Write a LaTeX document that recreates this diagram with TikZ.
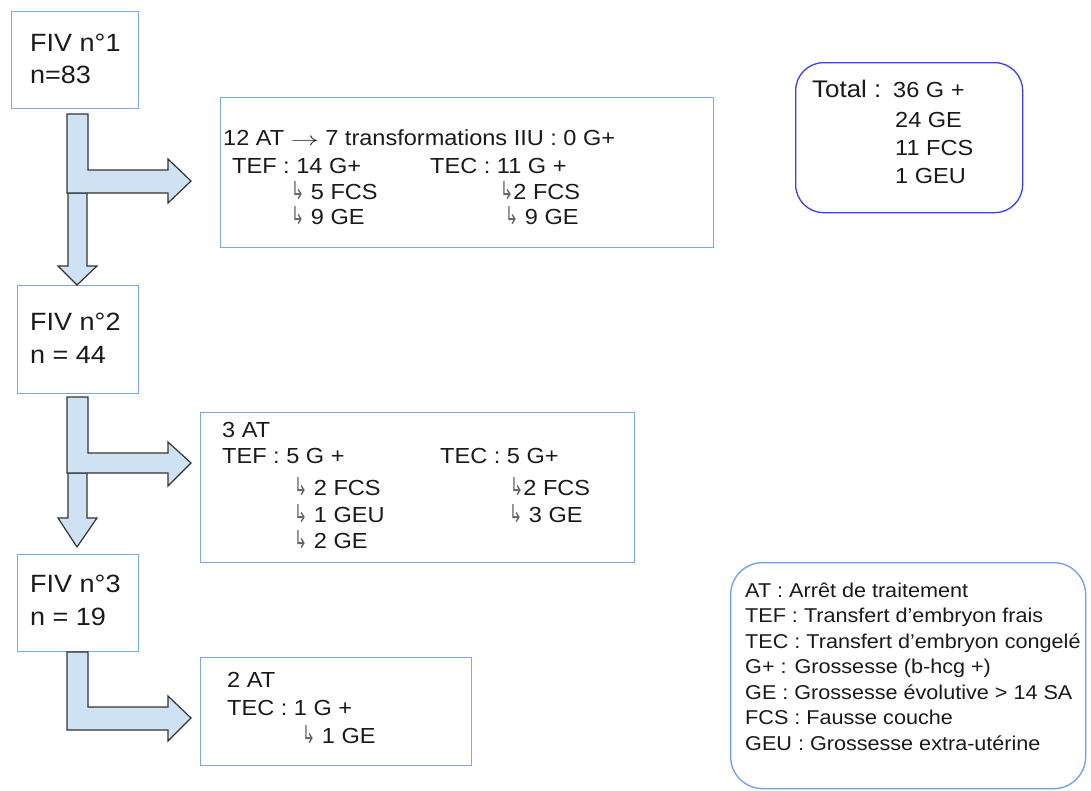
\documentclass[tikz,border=0pt]{standalone}
\usepackage{fontspec}
\setmainfont{Liberation Sans}[FakeStretch=1.08]
\newfontfamily\myarrowfont{DejaVu Sans}
\definecolor{boxblue}{HTML}{7BA7EE}
\definecolor{totblue}{HTML}{3D3DF2}
\definecolor{legblue}{HTML}{6F9FEA}
\definecolor{arrfill}{HTML}{CFE2F3}
\definecolor{arrline}{HTML}{333333}
\definecolor{ink}{HTML}{1A1A1A}
\newcommand{\myhook}{{\myarrowfont\fontsize{15}{15}\selectfont\textcolor{black!60}{\scalebox{1.05}[1.65]{↳}}}}
\tikzset{
  txt/.style={anchor=base west, inner sep=0pt, text=ink, font=\fontsize{20}{24}\selectfont},
  restxt/.style={txt, font=\fontsize{21.8}{26}\selectfont},
  bigtxt/.style={txt, font=\fontsize{25}{30}\selectfont},
  tottxt/.style={txt, font=\fontsize{24}{28}\selectfont},
  box/.style={draw=boxblue, line width=1.3pt, anchor=north west, inner sep=0pt},
  roundbox/.style={line width=1.3pt, anchor=north west, inner sep=0pt, rounded corners=28pt},
  barrow/.style={draw=arrline, fill=arrfill, line width=1.2pt, line join=miter},
}
\begin{document}
\begin{tikzpicture}[x=1pt,y=-1pt]
\useasboundingbox (0,0) rectangle (1091,790);
\fill[white] (0,0) rectangle (1091,790);

% boxes
\node[box, minimum width=127pt, minimum height=97pt] (fiv1) at (11,11) {};
\node[box, minimum width=121pt, minimum height=108pt] (fiv2) at (17,285) {};
\node[box, minimum width=121pt, minimum height=97pt] (fiv3) at (17,554) {};
\node[box, minimum width=493pt, minimum height=150pt] (res1) at (220,97) {};
\node[box, minimum width=434pt, minimum height=150pt] (res2) at (200,412) {};
\node[box, minimum width=271pt, minimum height=108pt] (res3) at (200,657) {};
\node[roundbox, draw=totblue, minimum width=227pt, minimum height=150pt] (total) at (795,62) {};
\node[roundbox, draw=legblue, rounded corners=32pt, minimum width=355pt, minimum height=226pt] (legend) at (730,562) {};

% block arrows
\draw[barrow] (68,193) -- (87,193) -- (87,266) -- (97,266) -- (77,285) -- (58,266) -- (68,266) -- cycle;
\draw[barrow] (67,114) -- (88,114) -- (88,170) -- (168,170) -- (168,159) -- (191,181) -- (168,203) -- (168,193) -- (67,193) -- cycle;
\draw[barrow] (68,473) -- (87,473) -- (87,518) -- (97,518) -- (77,547) -- (58,518) -- (68,518) -- cycle;
\draw[barrow] (67,397) -- (88,397) -- (88,453) -- (168,453) -- (168,442) -- (191,463) -- (168,486) -- (168,473) -- (67,473) -- cycle;
\draw[barrow] (67,652) -- (88,652) -- (88,707) -- (168,707) -- (168,696) -- (191,718) -- (168,741) -- (168,730) -- (67,730) -- cycle;

% FIV texts
\node[bigtxt] (f1a) at (30,51) {FIV n°1};
\node[bigtxt] (f1b) at (30,83) {n=83};
\node[bigtxt] (f2a) at (30,330) {FIV n°2};
\node[bigtxt] (f2b) at (30,363) {n = 44};
\node[bigtxt] (f3a) at (30,592) {FIV n°3};
\node[bigtxt] (f3b) at (30,625) {n = 19};

% result box 1
\node[restxt] (r1a) at (223,145) {12 AT \scalebox{1.35}[0.9]{$\rightarrow$} 7 transformations IIU : 0 G+};
\node[restxt] (r1b) at (232,173) {TEF : 14 G+};
\node[restxt] (r1c) at (430,173) {TEC : 11 G +};
\node[restxt] (r1d) at (291,199) {\myhook\ 5 FCS};
\node[restxt] (r1e) at (500,199) {\myhook2 FCS};
\node[restxt] (r1f) at (291,224) {\myhook\ 9 GE};
\node[restxt] (r1g) at (505,224) {\myhook\ 9 GE};

% result box 2
\node[restxt] (r2a) at (222,437) {3 AT};
\node[restxt] (r2b) at (222,463) {TEF : 5 G +};
\node[restxt] (r2c) at (440,463) {TEC : 5 G+};
\node[restxt] (r2d) at (294,495) {\myhook\ 2 FCS};
\node[restxt] (r2e) at (510,495) {\myhook2 FCS};
\node[restxt] (r2f) at (294,522) {\myhook\ 1 GEU};
\node[restxt] (r2g) at (509,522) {\myhook\ 3 GE};
\node[restxt] (r2h) at (294,548) {\myhook\ 2 GE};

% result box 3
\node[restxt] (r3a) at (227,687) {2 AT};
\node[restxt] (r3b) at (227,715) {TEC : 1 G +};
\node[restxt] (r3c) at (302,743) {\myhook\ 1 GE};

% total
\node[tottxt] (ta) at (812,97) {Total :};
\node[restxt] (tb) at (893,97) {36 G +};
\node[restxt] (tc) at (895,127) {24 GE};
\node[restxt] (td) at (895,155) {11 FCS};
\node[restxt] (te) at (895,183) {1 GEU};

% legend
\node[txt] (l1) at (745,597) {AT : Arrêt de traitement};
\node[txt] (l2) at (745,622.5) {TEF : Transfert d’embryon frais};
\node[txt] (l3) at (745,648) {TEC : Transfert d’embryon congelé};
\node[txt] (l4) at (745,673.5) {G+ : Grossesse (b-hcg +)};
\node[txt] (l5) at (745,699) {GE : Grossesse évolutive > 14 SA};
\node[txt] (l6) at (745,724.5) {FCS : Fausse couche};
\node[txt] (l7) at (745,750) {GEU : Grossesse extra-utérine};
\end{tikzpicture}
\end{document}
